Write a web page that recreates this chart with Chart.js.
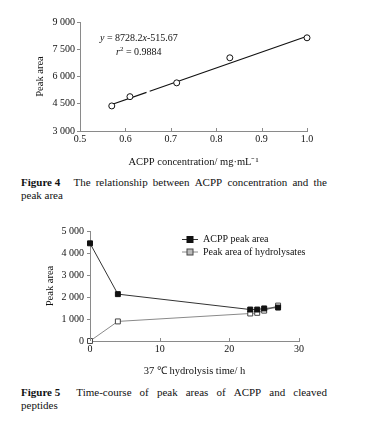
<!DOCTYPE html>
<html>
<head>
<meta charset="utf-8">
<script src="https://cdn.jsdelivr.net/npm/chart.js@4.4.0/dist/chart.umd.min.js"></script>
<style>
  html, body { margin: 0; padding: 0; background: #fff; }
  body { width: 368px; height: 428px; position: relative; overflow: hidden; font-family: "Liberation Serif", serif; color: #111; }
  .box { position: absolute; left: 0; width: 368px; }
  .caption { position: absolute; left: 21px; width: 306px; font-size: 11px; line-height: 13px; }
  .caption .l1 { white-space: nowrap; display: flex; justify-content: space-between; }
  .caption b { margin-right: 8px; }
</style>
</head>
<body>
<div class="box" style="top:0;height:172px"><canvas id="fig4"></canvas></div>
<div class="caption" style="top:176px">
  <div class="l1"><b>Figure 4</b><span>The</span><span>relationship</span><span>between</span><span>ACPP</span><span>concentration</span><span>and</span><span>the</span></div>
  <div>peak area</div>
</div>
<div class="box" style="top:220px;height:160px"><canvas id="fig5"></canvas></div>
<div class="caption" style="top:386px">
  <div class="l1"><b>Figure 5</b><span>Time-course</span><span>of</span><span>peak</span><span>areas</span><span>of</span><span>ACPP</span><span>and</span><span>cleaved</span></div>
  <div>peptides</div>
</div>
<script>
// Figure 4 data
const concentration = [0.57, 0.61, 0.713, 0.83, 1.0];
const peakArea = [4380, 4890, 5650, 7030, 8130];
const fitSlope = 8728.2;
const fitIntercept = -515.67;
const fitX = [0.57, 0.6465, null, 0.6535, 1.0]; // small break in the printed line
const fig4XTicks = [0.5, 0.6, 0.7, 0.8, 0.9, 1.0];
const fig4YTicks = [3000, 4500, 6000, 7500, 9000];

// Figure 5 data
const hours = [0, 4, 23, 24, 25, 27];
const acppArea = [4440, 2130, 1430, 1430, 1480, 1520];
const hydrolysateArea = [0, 890, 1250, 1280, 1380, 1610];
const fig5XTicks = [0, 10, 20, 30];
const fig5YTicks = [0, 1000, 2000, 3000, 4000, 5000];

const serif = 'Liberation Serif';
const tickFont = { family: serif, size: 10 };
const titleFont = { family: serif, size: 10.5 };
const axisGrey = '#8a8a8a';

function spaced(v) {
  return String(v).replace(/\B(?=(\d{3})+(?!\d))/g, ' ');
}

// x ticks point up into the plot, as in the print
const innerXTicks = {
  id: 'innerXTicks',
  afterDraw(chart) {
    const s = chart.scales.x, ctx = chart.ctx;
    ctx.save();
    ctx.strokeStyle = axisGrey;
    ctx.lineWidth = 1;
    s.ticks.forEach((t, i) => {
      const px = Math.round(s.getPixelForTick(i)) + 0.5;
      ctx.beginPath();
      ctx.moveTo(px, s.top);
      ctx.lineTo(px, s.top - 3);
      ctx.stroke();
    });
    ctx.restore();
  }
};

function drawRich(ctx, x, y, parts) {
  parts.forEach(p => {
    ctx.font = (p.italic ? 'italic ' : '') + (p.size || 10) + 'px ' + serif;
    ctx.fillText(p.t, x, y + (p.dy || 0));
    x += ctx.measureText(p.t).width;
  });
}

const equationLabel = {
  id: 'equationLabel',
  afterDraw(chart) {
    const ctx = chart.ctx, a = chart.chartArea;
    ctx.save();
    ctx.fillStyle = '#111';
    ctx.textBaseline = 'middle';
    drawRich(ctx, a.left + 20, a.top + 16, [
      { t: 'y', italic: true }, { t: ' = 8728.2' }, { t: 'x', italic: true }, { t: '-515.67' }
    ]);
    drawRich(ctx, a.left + 36, a.top + 30, [
      { t: 'r', italic: true }, { t: '2', size: 7, dy: -3 }, { t: ' = 0.9884' }
    ]);
    ctx.restore();
  }
};

new Chart(document.getElementById('fig4'), {
  type: 'scatter',
  data: {
    datasets: [{
      label: 'Measured',
      data: concentration.map((c, i) => ({ x: c, y: peakArea[i] })),
      pointStyle: 'circle',
      pointRadius: 3,
      pointBorderWidth: 1,
      pointBackgroundColor: '#fff',
      pointBorderColor: '#111',
      showLine: false,
      clip: false
    }, {
      label: 'Fit',
      data: fitX.map(x => x === null ? { x: 0.65, y: null } : { x: x, y: fitSlope * x + fitIntercept }),
      showLine: true,
      spanGaps: false,
      borderColor: '#111',
      borderWidth: 1.2,
      pointRadius: 0,
      clip: false
    }]
  },
  options: {
    responsive: true,
    maintainAspectRatio: false,
    animation: false,
    layout: { padding: { left: 0, right: 61, top: 22, bottom: 0 } },
    plugins: { legend: { display: false }, tooltip: { enabled: false } },
    scales: {
      x: {
        type: 'linear', min: 0.5, max: 1.0,
        afterFit: s => { s.height = 41; },
        afterBuildTicks: s => { s.ticks = fig4XTicks.map(v => ({ value: v })); },
        border: { color: axisGrey, width: 1 },
        grid: { display: false, drawTicks: false },
        ticks: { font: tickFont, color: '#111', padding: 2, maxRotation: 0, callback: v => v.toFixed(1) },
        title: { display: true, text: 'ACPP concentration/ mg·mL⁻¹', font: titleFont, color: '#111', padding: { top: 0, bottom: 3 } }
      },
      y: {
        min: 3000, max: 9000,
        afterFit: s => { s.width = 80; },
        afterBuildTicks: s => { s.ticks = fig4YTicks.map(v => ({ value: v })); },
        border: { color: axisGrey, width: 1 },
        grid: { drawOnChartArea: false, color: axisGrey, tickLength: 3 },
        ticks: { font: tickFont, color: '#111', padding: 2, callback: v => spaced(v) },
        title: { display: true, text: 'Peak area', font: titleFont, color: '#111', padding: { top: 34, bottom: 0 } }
      }
    }
  },
  plugins: [innerXTicks, equationLabel]
});

const fig5Legend = {
  id: 'fig5Legend',
  afterDraw(chart) {
    const ctx = chart.ctx;
    const x0 = 182, rowY = [19, 31.5];
    ctx.save();
    ctx.textBaseline = 'middle';
    ctx.font = '10px ' + serif;
    chart.data.datasets.forEach((ds, i) => {
      const y = rowY[i] + 0.5;
      ctx.strokeStyle = ds.borderColor;
      ctx.lineWidth = 1;
      ctx.beginPath();
      ctx.moveTo(x0, y);
      ctx.lineTo(x0 + 16, y);
      ctx.stroke();
      ctx.fillStyle = i === 0 ? '#111' : '#bbb';
      ctx.fillRect(x0 + 5, y - 3, 6, 6);
      ctx.strokeStyle = ds.pointBorderColor;
      ctx.strokeRect(x0 + 5, y - 3, 6, 6);
      ctx.fillStyle = '#111';
      ctx.fillText(ds.label, x0 + 21, y);
    });
    ctx.restore();
  }
};

new Chart(document.getElementById('fig5'), {
  type: 'line',
  data: {
    datasets: [{
      label: 'ACPP peak area',
      data: hours.map((h, i) => ({ x: h, y: acppArea[i] })),
      borderColor: '#333',
      borderWidth: 1,
      pointStyle: 'rect',
      pointRadius: 3.5,
      pointBorderWidth: 1,
      pointBackgroundColor: '#111',
      pointBorderColor: '#111',
      clip: false
    }, {
      label: 'Peak area of hydrolysates',
      data: hours.map((h, i) => ({ x: h, y: hydrolysateArea[i] })),
      borderColor: '#8a8a8a',
      borderWidth: 1,
      pointStyle: 'rect',
      pointRadius: 3.5,
      pointBorderWidth: 1,
      pointBackgroundColor: '#fff',
      pointBorderColor: '#444',
      clip: false
    }]
  },
  options: {
    responsive: true,
    maintainAspectRatio: false,
    animation: false,
    layout: { padding: { left: 0, right: 69, top: 11, bottom: 0 } },
    plugins: { legend: { display: false }, tooltip: { enabled: false } },
    scales: {
      x: {
        type: 'linear', min: 0, max: 30,
        afterFit: s => { s.height = 39; },
        afterBuildTicks: s => { s.ticks = fig5XTicks.map(v => ({ value: v })); },
        border: { color: axisGrey, width: 1 },
        grid: { display: false, drawTicks: false },
        ticks: { font: tickFont, color: '#111', padding: 2, maxRotation: 0 },
        title: { display: true, text: '37 ℃ hydrolysis time/ h', font: titleFont, color: '#111', padding: { top: 0, bottom: 2 } }
      },
      y: {
        min: 0, max: 5000,
        afterFit: s => { s.width = 90; },
        afterBuildTicks: s => { s.ticks = fig5YTicks.map(v => ({ value: v })); },
        border: { color: axisGrey, width: 1 },
        grid: { drawOnChartArea: false, color: axisGrey, tickLength: 3 },
        ticks: { font: tickFont, color: '#111', padding: 3, callback: v => spaced(v) },
        title: { display: true, text: 'Peak area', font: titleFont, color: '#111', padding: { top: 44, bottom: 0 } }
      }
    }
  },
  plugins: [innerXTicks, fig5Legend]
});
</script>
</body>
</html>
